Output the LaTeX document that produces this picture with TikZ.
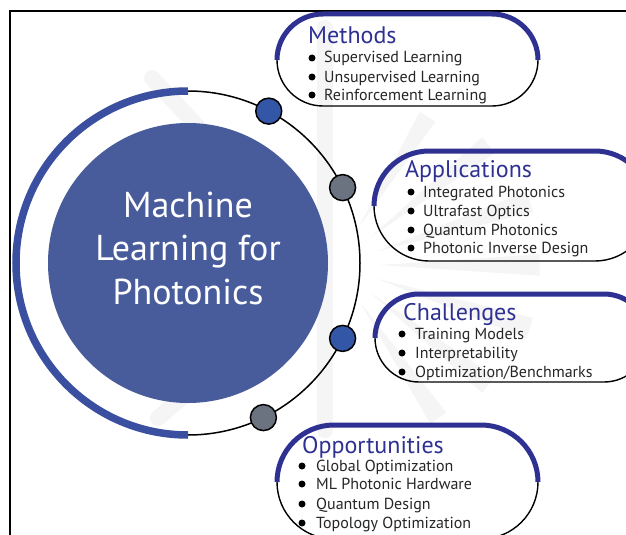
\documentclass[tikz,border=0pt]{standalone}
\usepackage{fontspec}
\setmainfont{PT Sans}
\usetikzlibrary{calc}
\definecolor{mlnavy}{RGB}{46,49,146}
\definecolor{mlcore}{RGB}{72,92,156}
\definecolor{mlring}{RGB}{58,79,160}
\definecolor{mldotblue}{RGB}{52,86,166}
\definecolor{mldotgray}{RGB}{107,114,128}
\definecolor{mlwm}{RGB}{245,245,245}
\tikzset{
  boxline/.style={draw=black,line width=1.4pt},
  boxtop/.style={draw=mlnavy,line width=5pt},
  titletext/.style={anchor=base west,inner sep=0pt,text=mlnavy,font=\fontsize{24}{28}\selectfont},
  itemtext/.style={anchor=base west,inner sep=0pt,text=black!85,font=\fontsize{16}{19}\selectfont},
  coretext/.style={align=center,text=white,font=\fontsize{36}{43.5}\selectfont,inner sep=0pt},
  dotblue/.style={circle,fill=mldotblue,draw=black,line width=1.5pt,minimum size=26pt,inner sep=0pt},
  dotgray/.style={circle,fill=mldotgray,draw=black,line width=1.5pt,minimum size=26pt,inner sep=0pt},
  wmband/.style={draw=mlwm,line width=16pt,line cap=round},
}
\newcommand\mlbox[4]{%
  \draw[boxline] (#1,-#3) arc[start angle=180,end angle=270,radius=#4] -- (#2-#4,-#3-#4) arc[start angle=270,end angle=360,radius=#4];
  \draw[boxtop] (#1,-#3) arc[start angle=180,end angle=90,radius=#4] -- (#2-#4,-#3+#4) arc[start angle=90,end angle=0,radius=#4];
}
\newcommand\mlitem[5]{% bulletx textx baseline text name
  \fill (#1,-#3+5) circle (3.5);
  \node[itemtext] (#5) at (#2,-#3) {#4};
}
\begin{document}
\begin{tikzpicture}[x=1pt,y=1pt]
\useasboundingbox (0,0) rectangle (626,-535);
\clip (0,0) rectangle (626,-535);
\fill[white] (0,0) rectangle (626,-535);
% watermark
\draw[wmband] (325,-28) -- (325,-430);
\draw[wmband] (152,-78) -- (318,-255);
\draw[wmband] (158,-418) -- (318,-280);
\foreach \a/\l in {58/175,38/195,18/205,0/205,-18/205,-38/195,-56/185}{
  \fill[mlwm] ($(335,-265)+(\a:45)$) -- ($(335,-265)+(\a+3:\l)$) -- ($(335,-265)+(\a-3:\l)$) -- cycle;
}
% frame
\draw[line width=1.5pt] (10,-535) -- (10,-11) -- (626,-11);
% core
\coordinate (c) at (188,-263);
\fill[mlcore] (c) circle (140);
\node[coretext] (core) at (188,-248) {Machine\\Learning for\\Photonics};
% ring
\draw[line width=1.5pt] (c) ++(90:172) arc[start angle=90,end angle=-90,radius=172];
\draw[draw=mlring,line width=7.5pt] (c) ++(90:172) arc[start angle=90,end angle=270,radius=172];
\node[dotblue] (d1) at ($(c)+(62:172)$) {};
\node[dotgray] (d2) at ($(c)+(26:172)$) {};
\node[dotblue] (d3) at ($(c)+(-26:172)$) {};
\node[dotgray] (d4) at ($(c)+(-64:172)$) {};
% boxes
\mlbox{277}{538}{60}{46}
\mlbox{374}{650}{206}{55}
\mlbox{375}{648}{338}{44}
\mlbox{277}{538}{482}{57}
% Methods
\node[titletext] (t1) at (308,-44) {Methods};
\mlitem{312}{324}{63}{Supervised Learning}{m1}
\mlitem{312}{324}{82}{Unsupervised Learning}{m2}
\mlitem{312}{324}{100}{Reinforcement Learning}{m3}
% Applications
\node[titletext] (t2) at (405,-177) {Applications};
\mlitem{411}{423}{197}{Integrated Photonics}{a1}
\mlitem{411}{423}{216}{Ultrafast Optics}{a2}
\mlitem{411}{423}{235}{Quantum Photonics}{a3}
\mlitem{411}{423}{253}{Photonic Inverse Design}{a4}
% Challenges
\node[titletext] (t3) at (403,-320) {Challenges};
\mlitem{402}{415}{339}{Training Models}{c1}
\mlitem{402}{415}{358}{Interpretability}{c2}
\mlitem{402}{415}{377}{Optimization/Benchmarks}{c3}
% Opportunities
\node[titletext] (t4) at (302,-453) {Opportunities};
\mlitem{302}{316}{471}{Global Optimization}{o1}
\mlitem{302}{316}{489}{ML Photonic Hardware}{o2}
\mlitem{302}{316}{509}{Quantum Design}{o3}
\mlitem{302}{316}{528}{Topology Optimization}{o4}
\end{tikzpicture}
\end{document}
